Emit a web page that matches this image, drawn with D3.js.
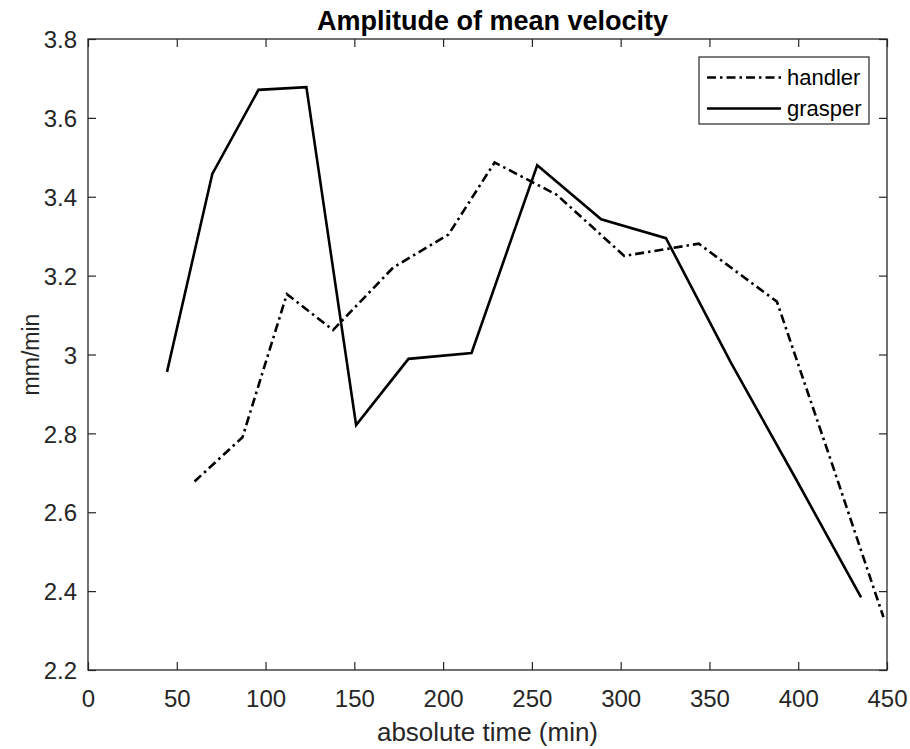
<!DOCTYPE html>
<html>
<head>
<meta charset="utf-8">
<script src="https://cdn.jsdelivr.net/npm/d3@7"></script>
<style>
  body { margin: 0; background: #fff; }
  svg { display: block; font-family: "Liberation Sans", Arial, sans-serif; }
</style>
</head>
<body>
<svg id="chart" width="910" height="749"></svg>
<script>
// ---- data ----
const handlerTime = [60, 87, 112, 138, 172, 203, 229, 264, 302, 344, 388, 420, 448];
const handlerVel  = [2.678, 2.79, 3.153, 3.062, 3.221, 3.304, 3.487, 3.405, 3.25, 3.281, 3.134, 2.71, 2.334];
const grasperTime = [44.5, 70, 96, 123, 151, 180.5, 216, 253, 289, 325.5, 362, 398, 435.4];
const grasperVel  = [2.956, 3.458, 3.671, 3.678, 2.821, 2.989, 3.004, 3.48, 3.343, 3.295, 2.98, 2.69, 2.384];
const xTicks = [0, 50, 100, 150, 200, 250, 300, 350, 400, 450];
const yTicks = [2.2, 2.4, 2.6, 2.8, 3.0, 3.2, 3.4, 3.6, 3.8];
const seriesNames = ["handler", "grasper"];

const svg = d3.select("#chart");
const L = 88, R = 887, T = 39, B = 670;
const x = d3.scaleLinear().domain([0, 450]).range([L, R]);
const y = d3.scaleLinear().domain([2.2, 3.8]).range([B, T]);
const axisColor = "#262626";
const tickLen = 8;

// axes
const fmtY = d => (d === 3 ? "3" : d3.format(".1f")(d));
const gx = svg.append("g").attr("transform", `translate(0,${B})`)
  .call(d3.axisBottom(x).tickValues(xTicks).tickSize(-tickLen).tickPadding(37).tickFormat(d3.format("d")));
const gxt = svg.append("g").attr("transform", `translate(0,${T})`)
  .call(d3.axisTop(x).tickValues(xTicks).tickSize(-tickLen).tickFormat(""));
const gy = svg.append("g").attr("transform", `translate(${L},0)`)
  .call(d3.axisLeft(y).tickValues(yTicks).tickSize(-tickLen).tickPadding(11).tickFormat(fmtY));
const gyr = svg.append("g").attr("transform", `translate(${R},0)`)
  .call(d3.axisRight(y).tickValues(yTicks).tickSize(-tickLen).tickFormat(""));
[gx, gxt, gy, gyr].forEach(g => {
  g.select(".domain").remove();
  g.selectAll(".tick line").attr("stroke", axisColor).attr("stroke-width", 1.2);
  g.selectAll(".tick text").attr("fill", axisColor).attr("font-size", 24)
    .attr("font-family", "Liberation Sans, Arial, sans-serif");
});
gy.selectAll(".tick text").attr("dy", "0.36em");
gx.selectAll(".tick text").attr("dy", "0");

svg.append("rect").attr("x", L).attr("y", T).attr("width", R - L).attr("height", B - T)
  .attr("fill", "none").attr("stroke", axisColor).attr("stroke-width", 1.3);

// lines
const line = d3.line().x(d => x(d[0])).y(d => y(d[1]));
const handlerData = handlerTime.map((t, i) => [t, handlerVel[i]]);
const grasperData = grasperTime.map((t, i) => [t, grasperVel[i]]);
const dashDot = "9,4,2.5,4";
svg.append("path").datum(handlerData).attr("d", line)
  .attr("fill", "none").attr("stroke", "#000").attr("stroke-width", 2.6)
  .attr("stroke-dasharray", dashDot).attr("stroke-linejoin", "miter");
svg.append("path").datum(grasperData).attr("d", line)
  .attr("fill", "none").attr("stroke", "#000").attr("stroke-width", 2.6)
  .attr("stroke-linejoin", "miter");

// title & labels
svg.append("text").attr("x", (L + R) / 2 + 5).attr("y", 30).attr("text-anchor", "middle")
  .attr("font-size", 27).attr("font-weight", "bold").attr("fill", "#000")
  .text("Amplitude of mean velocity");
svg.append("text").attr("x", (L + R) / 2).attr("y", 741).attr("text-anchor", "middle")
  .attr("font-size", 26).attr("fill", axisColor).text("absolute time (min)");
svg.append("text").attr("transform", `translate(39,${(T + B) / 2}) rotate(-90)`)
  .attr("text-anchor", "middle").attr("font-size", 23).attr("fill", axisColor).text("mm/min");

// legend
const lg = svg.append("g");
lg.append("rect").attr("x", 699).attr("y", 57).attr("width", 170).attr("height", 67)
  .attr("fill", "#fff").attr("stroke", axisColor).attr("stroke-width", 1.2);
const rows = [77.5, 108.5];
seriesNames.forEach((name, i) => {
  lg.append("line").attr("x1", 707).attr("x2", 781).attr("y1", rows[i]).attr("y2", rows[i])
    .attr("stroke", "#000").attr("stroke-width", 2.6)
    .attr("stroke-dasharray", i === 0 ? dashDot : null);
  lg.append("text").attr("x", 787).attr("y", rows[i]).attr("dy", "0.36em")
    .attr("font-size", 22).attr("fill", "#000").text(name);
});
</script>
</body>
</html>
